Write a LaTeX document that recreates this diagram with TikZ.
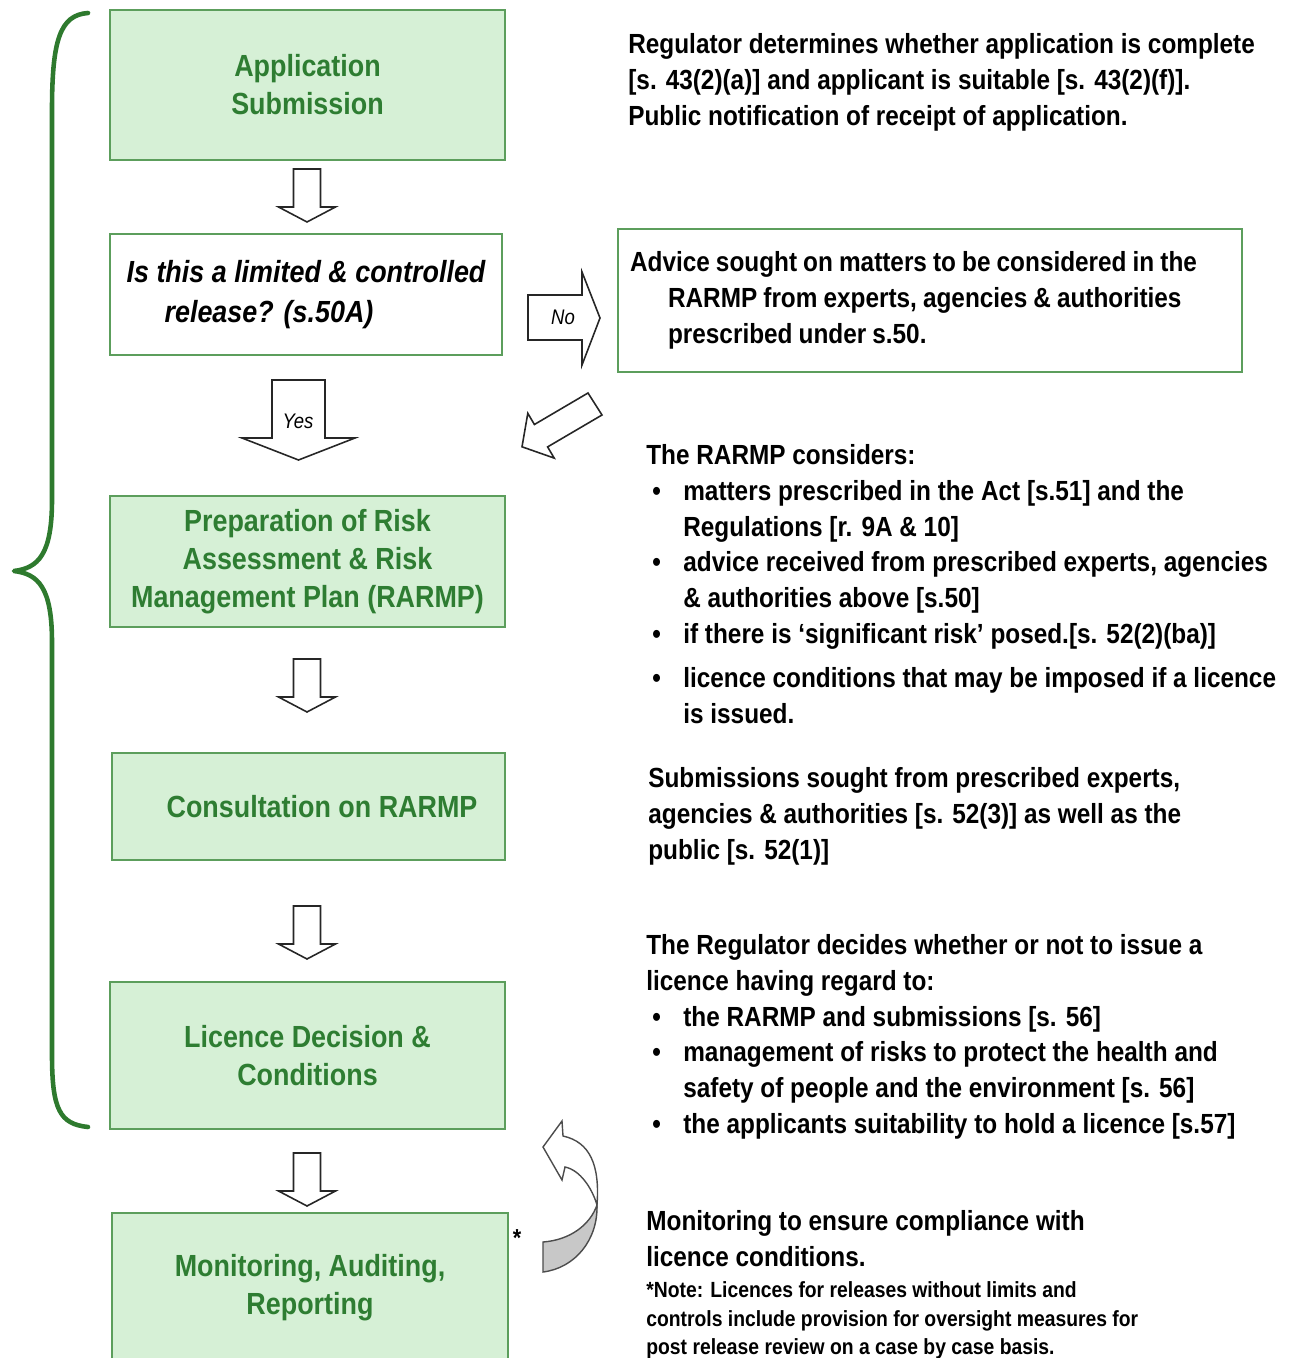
\documentclass[tikz,border=0pt]{standalone}
\usepackage{fontspec}
\setmainfont{Liberation Sans}[FakeStretch=0.88]

\definecolor{boxfill}{RGB}{214,240,214}
\definecolor{boxline}{RGB}{92,158,92}
\definecolor{boxtext}{RGB}{46,125,50}
\definecolor{bracegreen}{RGB}{46,122,46}
\definecolor{underside}{RGB}{200,200,200}

\tikzset{every picture/.style = {x=0.02cm, y=-0.02cm}}
\tikzset{stage/.style = {draw=boxline, fill=boxfill, line width=1.1pt, minimum width=7.9cm,
    text=boxtext, align=center, font=\fontsize{17.4}{21.6}\selectfont\bfseries}}
\tikzset{query/.style = {stage, fill=white, text=black, align=left,
    font=\fontsize{17.4}{22.7}\selectfont\bfseries\itshape}}
\tikzset{advicebox/.style = {draw=boxline, fill=white, line width=1.1pt, minimum width=12.48cm,
    minimum height=2.86cm, inner xsep=0.24cm, text width=12cm, align=left,
    font=\fontsize{15.75}{20.4}\selectfont\bfseries}}
\tikzset{note/.style = {anchor=north west, inner sep=0, align=left,
    font=\fontsize{15.75}{20.4}\selectfont\bfseries}}
\tikzset{smallnote/.style = {note, font=\fontsize{12.5}{16.4}\selectfont\bfseries}}
\tikzset{hollow/.style = {draw=black!85, fill=white, line width=0.9pt, line join=miter}}
\tikzset{tag/.style = {inner sep=0, font=\fontsize{12}{14}\selectfont\itshape}}

\newcommand{\itm}{\makebox[0.74cm][l]{\hspace{0.12cm}\textbullet}}
\newcommand{\cont}{\hspace*{0.74cm}}

\begin{document}
\begin{tikzpicture}
  \useasboundingbox (0,0) rectangle (1294,1358);

  % brace over the licence steps
  \draw[bracegreen, line width=2.6pt, line join=round, line cap=round] (88,13)
    .. controls (60,15) and (52,40) .. (52,110)
    -- (52,500) .. controls (52,555) and (38,568) .. (14,571)
    .. controls (38,574) and (52,587) .. (52,642)
    -- (52,1055) .. controls (52,1110) and (60,1124) .. (88,1127);

  % process steps
  \node[stage, minimum height=3cm] (app) at (307.5,85) {Application\\Submission};
  \node[query, minimum width=7.84cm, minimum height=2.42cm] (ask) at (306,294.5)
    {Is this a limited \& controlled\\\hspace*{0.76cm}release? (s.50A)};
  \node[stage, minimum height=2.62cm] (rarmp) at (307.5,561.5)
    {Preparation of Risk\\Assessment \& Risk\\Management Plan (RARMP)};
  \node[stage, minimum width=7.86cm, minimum height=2.14cm] (consult) at (308.5,806.5)
    {\hspace*{0.54cm}Consultation on RARMP};
  \node[stage, minimum height=2.94cm] (licence) at (307.5,1055.5) {Licence Decision \&\\Conditions};
  \node[stage, minimum width=7.92cm, minimum height=2.98cm] (monitor) at (310,1287.5)
    {Monitoring, Auditing,\\Reporting};
  \node[advicebox] (advice) at (930,300.5)
    {\spaceskip=0.22em plus 0.05em Advice sought on matters to be considered in the\\
     \hspace*{0.76cm}RARMP from experts, agencies \& authorities\\
     \hspace*{0.76cm}prescribed under s.50.};

  % block arrows
  \foreach \ty in {169,659,906,1153}
    \draw[hollow] (293.5,\ty) -- (320.5,\ty) -- (320.5,\ty+38) -- (335.5,\ty+38)
      -- (307,\ty+53) -- (278.5,\ty+38) -- (293.5,\ty+38) -- cycle;
  \draw[hollow] (272,380) -- (325,380) -- (325,438) -- (355,438)
    -- (298.5,460) -- (242,438) -- (272,438) -- cycle;
  \node[tag] (yes) at (298,421) {Yes};
  \draw[hollow] (528,295) -- (582,295) -- (582,272) -- (600,318)
    -- (582,365) -- (582,340) -- (528,340) -- cycle;
  \node[tag] (no) at (563,317) {No};
  \draw[hollow] (588,393) -- (602,415) -- (547.6,446.9) -- (554.2,458.1)
    -- (522,446.8) -- (527.8,413.3) -- (534.4,424.5) -- cycle;

  % curved return arrow
  \draw[hollow, draw=black!70, line width=0.8pt, fill=underside] (543,1242)
    .. controls (570,1240) and (590,1225) .. (597,1205)
    .. controls (598,1240) and (575,1268) .. (543,1272) -- cycle;
  \draw[hollow, draw=black!70, line width=0.8pt] (597,1205)
    .. controls (600,1165) and (590,1142) .. (563,1136)
    -- (562,1121) -- (543,1147) -- (562,1180) -- (565,1167)
    .. controls (580,1170) and (592,1188) .. (597,1205) -- cycle;
  \node[font=\fontsize{14}{16}\selectfont\bfseries] (star) at (517,1238) {*};

  % explanations
  \node[note] (checks) at (628,33)
    {Regulator determines whether application is complete\\
     {[}s. 43(2)(a)]  and applicant is suitable [s. 43(2)(f)].\\
     Public notification of receipt  of application.};
  \node[note] (considers) at (646,444)
    {The RARMP considers:\\
     \itm matters prescribed in the Act [s.51] and the\\
     \cont Regulations [r. 9A \& 10]\\
     \itm advice received from prescribed experts, agencies\\
     \cont \& authorities above [s.50]\\
     \itm if there is ‘significant risk’ posed.[s. 52(2)(ba)]\\[0.16cm]
     \itm licence conditions that may be imposed if a licence\\
     \cont is issued.};
  \node[note] (submissions) at (648,767)
    {Submissions sought from prescribed experts,\\
     agencies \& authorities [s. 52(3)]  as well as the\\
     public [s. 52(1)]};
  \node[note] (decides) at (646,934)
    {The Regulator decides whether or not to issue a\\
     licence having regard to:\\
     \itm the RARMP and submissions [s. 56]\\
     \itm management of risks to protect the health and\\
     \cont safety of people and the environment [s. 56]\\
     \itm the applicants suitability to hold a licence [s.57]};
  \node[note] (compliance) at (646,1210)
    {Monitoring to ensure compliance with\\
     licence conditions.};
  \node[smallnote] (caveat) at (646,1281)
    {*Note: Licences for releases without limits and\\
     controls include provision for oversight measures for\\
     post release review on a case by case basis.};
\end{tikzpicture}
\end{document}
